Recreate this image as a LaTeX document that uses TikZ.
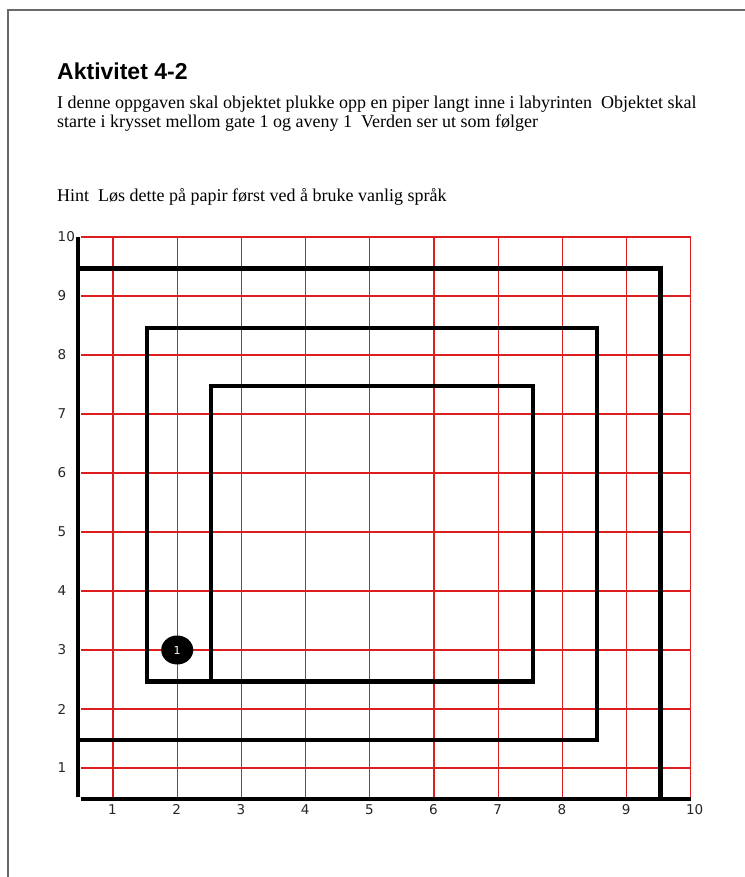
\documentclass[tikz,border=0pt]{standalone}
\usepackage{fontspec}
\setmainfont{Liberation Serif}
\newfontfamily\titlefont{Liberation Sans}
\newfontfamily\axisfont{DejaVu Sans}
\usetikzlibrary{shapes.geometric}
\definecolor{gridred}{RGB}{222,30,30}
\definecolor{framegray}{RGB}{105,105,105}
\tikzset{
  bodytext/.style={anchor=base west, inner sep=0pt, font=\fontsize{18}{20}\selectfont},
  titletext/.style={anchor=base west, inner sep=0pt, font=\titlefont\bfseries\fontsize{23}{27}\selectfont},
  gridline/.style={gridred, line width=1.3pt},
  wall/.style={black, line width=4.2pt, line cap=butt, line join=miter},
  axislabel/.style={anchor=west, inner sep=0pt, text=black!85, font=\axisfont\fontsize{13.5}{15}\selectfont},
  piperdot/.style={ellipse, fill=black, minimum width=32pt, minimum height=29pt, inner sep=0pt, text=white, font=\axisfont\fontsize{11}{12}\selectfont}
}
\begin{document}
\begin{tikzpicture}[x=1pt,y=1pt]
\useasboundingbox (0,0) rectangle (744,877);
\fill[white] (0,0) rectangle (744,877);
% page frame
\draw[framegray, line width=1.5pt] (8,-2) -- (8,867) -- (746,867);
% texts
\node[titletext] (title) at (57,877-80) {Aktivitet 4-2};
\node[bodytext] (line1) at (57,877-109) {I denne oppgaven skal objektet plukke opp en piper langt inne i labyrinten\ \ Objektet skal};
\node[bodytext] (line2) at (57,877-128) {starte i krysset mellom gate 1 og aveny 1\ \ Verden ser ut som følger};
\node[bodytext] (hint) at (57,877-202) {Hint\ \ Løs dette på papir først ved å bruke vanlig språk};
% grid world
\begin{scope}[shift={(48.8,50)}, x=64.2pt, y=59pt]
  \foreach \i in {1,...,10} \draw[gridline] (\i,0.5) -- (\i,10);
  \foreach \j in {1,...,10} \draw[gridline] (0.5,\j) -- (10,\j);
  % axes
  \draw[wall] (0.46,10) -- (0.46,0.505);
  \draw[wall] (0.495,0.47) -- (10,0.47);
  % outer wall
  \draw[wall] (0.46,9.466) -- (9.528,9.466) -- (9.528,0.505);
  % spiral wall
  \draw[wall] (0.46,1.475) -- (8.54,1.475) -- (8.54,8.46) -- (1.525,8.46) -- (1.525,2.466)
     -- (7.54,2.466) -- (7.54,7.47) -- (2.53,7.47) -- (2.53,2.466);
  % labels
  \foreach \i in {1,...,10} \node[axislabel] (xl\i) at ([xshift=-5pt]\i,0.29) {\i};
  \foreach \j in {1,...,10} \node[axislabel] (yl\j) at (0.136,\j) {\j};
  % piper
  \node[piperdot] (piper) at (2,3) {1};
\end{scope}
\end{tikzpicture}
\end{document}
